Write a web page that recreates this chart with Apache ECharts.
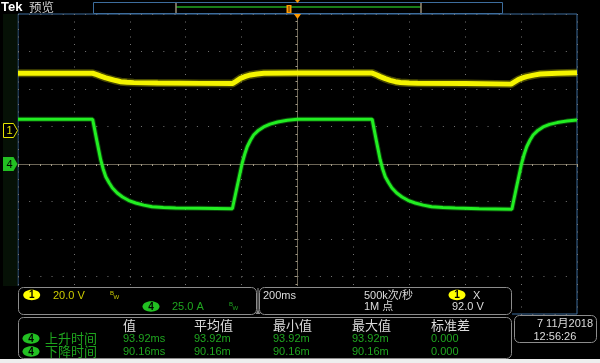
<!DOCTYPE html>
<html>
<head>
<meta charset="utf-8">
<script src="https://cdn.jsdelivr.net/npm/echarts@6/dist/echarts.min.js"></script>
<style>
html,body{margin:0;padding:0;background:#000;}
#chart{width:600px;height:363px;}
</style>
</head>
<body>
<div id="chart"></div>
<script>
// ---- Channel 4 (current, A) ----
const ch4Time = [-1000,-733,-718,-704,-695,-686,-674,-662,-645,-626,-605,-579,-550,-520,-480,-436,-350,-233,
  -216,-198,-189,-180,-168,-157,-140,-121,-98,-71,-36,0,267,
  282,296,305,314,326,338,355,374,395,421,450,480,520,564,650,767,
  784,802,811,820,832,843,860,879,902,929,964,1000];
const ch4Amps = [29.8,29.8,15.6,2.7,-3.5,-8.5,-12.5,-16,-19.3,-22,-24.2,-26,-27.4,-28.5,-29,-29.3,-29.5,-29.8,
  -15,0.5,6.5,11.5,16,19.3,22.4,24.7,26.6,28,29.2,29.8,29.9,
  15.6,2.7,-3.5,-8.5,-12.5,-16,-19.3,-22,-24.2,-26,-27.4,-28.5,-29,-29.4,-29.8,-30.2,
  -15,0.5,6.5,11.5,16,19.3,22.4,24.7,26.4,27.6,28.6,29.3];
// ---- Channel 1 (voltage, V) ----
const ch1Time = [-1000,-733,-718,-704,-686,-668,-650,-632,-610,-586,-500,-346,-233,
  -220,-204,-186,-168,-145,-120,0,267,
  282,296,314,332,350,368,400,430,600,764,
  777,790,805,820,845,868,930,1000];
const ch1Volts = [30.4,30.4,29.7,28.9,27.9,27.2,26.5,25.9,25.6,25.4,25.2,25.0,24.9,
  26.1,27.7,28.7,29.5,30.0,30.4,30.5,30.5,
  29.6,28.6,27.5,26.6,25.9,25.5,25.2,25.1,24.9,24.6,
  25.8,27.0,27.9,28.6,29.4,30.0,30.4,30.7];
// ---- readout texts ----
const ch1Scale = '20.0 V';
const ch4Scale = '25.0 A';
const timeScale = '200ms';
const sampleRate = '500k次/秒';
const recordLen = '1M 点';
const trigLevel = '92.0 V';
const measHeaders = ['值','平均值','最小值','最大值','标准差'];
const measNames = ['上升时间','下降时间'];
const measRise = ['93.92ms','93.92m','93.92m','93.92m','0.000'];
const measFall = ['90.16ms','90.16m','90.16m','90.16m','0.000'];
const dateText = '7 11月2018';
const timeText = '12:56:26';

const ch4Data = ch4Time.map((t,i)=>[t, ch4Amps[i]]);
const ch1Data = ch1Time.map((t,i)=>[t, ch1Volts[i]]);

const FONT = 'Liberation Sans, Arial, Noto Sans CJK SC, sans-serif';
const CJK = 'Noto Sans CJK SC, sans-serif';
const GREEN_TXT = '#1fa51f';
const YEL_TXT = '#cccc00';
const GREY_TXT = '#dcdcdc';

function txt(x, y, s, fill, size, opts) {
  opts = opts || {};
  return {type:'text', x:x, y:y, z:110,
    style:{text:s, fill:fill, font:(opts.bold?'bold ':'') + size + 'px ' + (opts.family || FONT),
      align:opts.align||'left', verticalAlign:'middle'}};
}
function rrect(x,y,w,h){
  return {type:'rect', z:105, shape:{x:x,y:y,width:w,height:h,r:5},
    style:{fill:'#000', stroke:'#8c8c8c', lineWidth:1}};
}
function badge(cx,cy,label,color){
  return [
    {type:'ellipse', z:108, shape:{cx:cx,cy:cy,rx:8.5,ry:5.2}, style:{fill:color}},
    txt(cx, cy+0.5, label, '#000', 10, {bold:true, align:'center'})
  ];
}
function bw(x,y,color){
  return [txt(x, y-2, 'B', color, 6), txt(x+3.5, y+2, 'W', color, 6)];
}

const graphics = [];
// left marker strip
graphics.push({type:'rect', z:1, shape:{x:3,y:14,width:14.5,height:273}, style:{fill:'#061106'}});
// top bar
graphics.push(txt(1, 7.5, 'Tek', '#ffffff', 13, {bold:true}));
graphics.push(txt(29, 7.5, '预览', '#cfcfcf', 12.5, {family:CJK}));
graphics.push({type:'rect', z:105, shape:{x:93.5,y:2.5,width:409,height:11}, style:{fill:'#000', stroke:'#3d6d9d', lineWidth:1}});
graphics.push({type:'line', z:106, shape:{x1:176,y1:7,x2:421,y2:7}, style:{stroke:'#22a822', lineWidth:1.5}});
graphics.push({type:'line', z:107, shape:{x1:176,y1:3,x2:176,y2:13}, style:{stroke:'#9a8e78', lineWidth:1.5}});
graphics.push({type:'line', z:107, shape:{x1:421,y1:3,x2:421,y2:13}, style:{stroke:'#9a8e78', lineWidth:1.5}});
graphics.push({type:'rect', z:108, shape:{x:286.5,y:5,width:5,height:8}, style:{fill:'#ff9a00'}});
graphics.push({type:'line', z:109, shape:{x1:289,y1:6,x2:289,y2:12}, style:{stroke:'#5a3000', lineWidth:1}});
graphics.push({type:'polygon', z:108, shape:{points:[[294,14],[301,14],[297.5,19]]}, style:{fill:'#ff9900'}});
graphics.push({type:'polygon', z:108, shape:{points:[[295,0],[300,0],[297.5,3]]}, style:{fill:'#ff9900'}});
// channel markers
graphics.push({type:'polygon', z:108, shape:{points:[[3.5,123.5],[13.5,123.5],[17.5,130.5],[13.5,137.5],[3.5,137.5]]},
  style:{fill:'#000', stroke:'#e6e600', lineWidth:1}});
graphics.push(txt(9.5, 131, '1', '#e6e600', 11, {align:'center'}));
graphics.push({type:'polygon', z:108, shape:{points:[[3,157],[13.5,157],[17.5,164],[13.5,171],[3,171]]},
  style:{fill:'#22c022'}});
graphics.push(txt(9.5, 164.5, '4', '#000', 11, {align:'center'}));
// backing for readouts
graphics.push({type:'rect', z:100, shape:{x:0,y:286,width:512,height:77}, style:{fill:'#000'}});
graphics.push({type:'rect', z:100, shape:{x:512,y:315,width:88,height:48}, style:{fill:'#000'}});
graphics.push({type:'rect', z:120, shape:{x:0,y:359,width:600,height:4}, style:{fill:'#eeeeee'}});
// box 1 : vertical scales
graphics.push(rrect(18.5,287.5,238,27));
graphics.push(...badge(31.7,295,'1','#ffff00'));
graphics.push(txt(53,295.5,ch1Scale,YEL_TXT,11));
graphics.push(...bw(110,295,YEL_TXT));
graphics.push(...badge(151,306.5,'4','#22c022'));
graphics.push(txt(172,307,ch4Scale,GREEN_TXT,11));
graphics.push(...bw(229,306.5,GREEN_TXT));
graphics.push({type:'line', z:107, shape:{x1:258,y1:288,x2:258,y2:312}, style:{stroke:'#8c8c8c', lineWidth:1}});
graphics.push({type:'polygon', z:107, shape:{points:[[255.5,314],[260.5,314],[258,310]]}, style:{fill:'#8c8c8c'}});
// box 2 : horizontal / trigger
graphics.push(rrect(259.5,287.5,252,27));
graphics.push(txt(263,295.5,timeScale,GREY_TXT,11));
graphics.push(txt(364,295.5,sampleRate,GREY_TXT,11));
graphics.push(...badge(457,295,'1','#ffff00'));
graphics.push(txt(473,295.5,'X',GREY_TXT,11));
graphics.push(txt(364,307,recordLen,GREY_TXT,11));
graphics.push(txt(452,307,trigLevel,GREY_TXT,11));
// box 3 : measurements
graphics.push(rrect(18.5,317.5,493,41));
const colX = [123,194,273,352,431];
measHeaders.forEach((h,i)=>graphics.push(txt(colX[i],325.5,h,GREY_TXT,13,{family:CJK})));
[[measNames[0],measRise,338.5],[measNames[1],measFall,351.5]].forEach(r=>{
  graphics.push(...badge(31,r[2],'4','#22c022'));
  graphics.push(txt(45,r[2],r[0],GREEN_TXT,13,{family:CJK}));
  r[1].forEach((v,i)=>graphics.push(txt(colX[i],r[2]+0.5,v,GREEN_TXT,11)));
});
// box 4 : date
graphics.push(rrect(514.5,315.5,82,27));
graphics.push(txt(593,323.5,dateText,GREY_TXT,11,{align:'right'}));
graphics.push(txt(533.5,337,timeText,GREY_TXT,11));

const chart = echarts.init(document.getElementById('chart'), null, {renderer:'canvas'});
const CENTER = '#6d6657';
const TICK = '#a39a86';
const DOT = '#747474';
chart.setOption({
  backgroundColor:'#000',
  animation:false,
  grid:{left:18, top:14, width:559, height:300, show:true, borderColor:'#3d6d9d', borderWidth:1, backgroundColor:'transparent'},
  xAxis:[{
    type:'value', min:-1000, max:1000, interval:200,
    axisLine:{show:true, onZero:true, onZeroAxisIndex:0, lineStyle:{color:CENTER}},
    axisTick:{show:true, length:3, lineStyle:{color:TICK}},
    minorTick:{show:true, splitNumber:5, length:2, lineStyle:{color:TICK}},
    axisLabel:{show:false},
    splitLine:{show:true, lineStyle:{color:DOT, type:[1,6.5], width:1}}
  }],
  yAxis:[{
    type:'value', min:-100, max:100, interval:25,
    axisLine:{show:true, onZero:true, lineStyle:{color:CENTER}},
    axisTick:{show:true, length:3, lineStyle:{color:TICK}},
    minorTick:{show:true, splitNumber:5, length:2, lineStyle:{color:TICK}},
    axisLabel:{show:false},
    splitLine:{show:true, lineStyle:{color:DOT, type:[1,10.18], width:1}}
  },{
    type:'value', min:-98, max:62, show:false, splitLine:{show:false}
  }],
  series:[
    {type:'line', yAxisIndex:0, data:ch4Data, showSymbol:false, z:3,
      lineStyle:{color:'#22e822', width:5, opacity:0.3}, silent:true},
    {type:'line', yAxisIndex:0, data:ch4Data, showSymbol:false, z:4,
      lineStyle:{color:'#22ee22', width:3}, silent:true},
    {type:'line', yAxisIndex:1, data:ch1Data, showSymbol:false, z:3,
      lineStyle:{color:'#f2f200', width:8, opacity:0.3}, silent:true},
    {type:'line', yAxisIndex:1, data:ch1Data, showSymbol:false, z:4,
      lineStyle:{color:'#f4f400', width:5}, silent:true}
  ],
  graphic:{elements:graphics}
});
</script>
</body>
</html>
